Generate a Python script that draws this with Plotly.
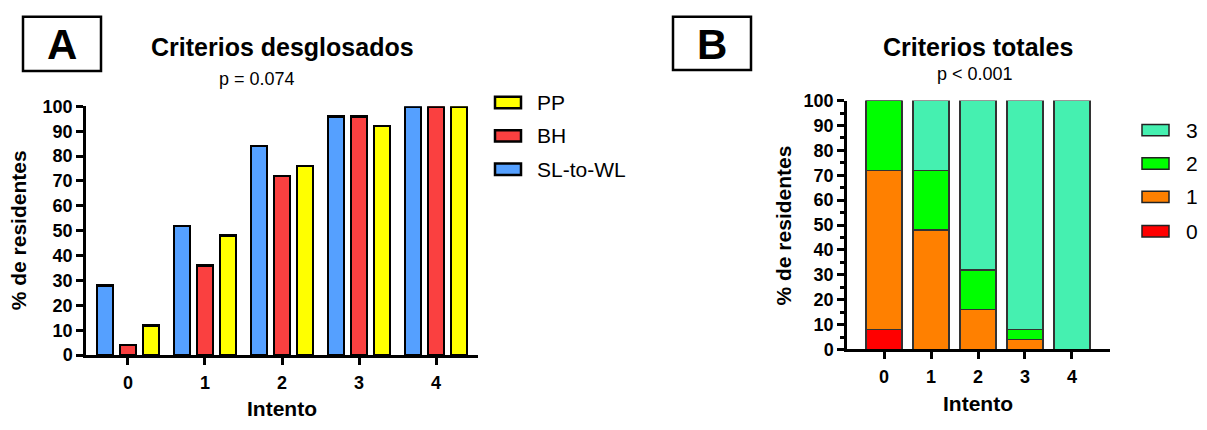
import plotly.graph_objects as go

# ---------------- data ----------------
intentos = [0, 1, 2, 3, 4]
tick_labels = ["0", "1", "2", "3", "4"]

# Panel A: criterios desglosados (% de residentes)
sl_to_wl = [28, 52, 84, 96, 100]
bh = [4, 36, 72, 96, 100]
pp = [12, 48, 76, 92, 100]

# Panel B: criterios totales (% de residentes, stacked)
crit0 = [8, 0, 0, 0, 0]
crit1 = [64, 48, 16, 4, 0]
crit2 = [28, 24, 16, 4, 0]
crit3 = [0, 28, 68, 92, 100]

W, H = 1207, 430
FONT = "Arial, Liberation Sans, sans-serif"


def px(x):
    return x / W


def py(y):
    return 1 - y / H


C_BLUE = "#55A0FF"
C_RED_A = "#FA4040"
C_YELLOW = "#FFFF00"
C_TEAL = "#45F0B0"
C_GREEN = "#00FF00"
C_ORANGE = "#FF8000"
C_RED_B = "#FF0000"

fig = go.Figure()

# ---- Panel A bars (grouped by shifting within each category) ----
group_shift = {"SL-to-WL": -0.3, "BH": 0.0, "PP": 0.3}
for name, vals, col in [("SL-to-WL", sl_to_wl, C_BLUE), ("BH", bh, C_RED_A), ("PP", pp, C_YELLOW)]:
    fig.add_trace(go.Bar(
        x=[i + group_shift[name] for i in intentos], y=vals, width=0.21,
        marker=dict(color=col, line=dict(color="black", width=2.5)),
        name=name, xaxis="x", yaxis="y", showlegend=False))

# ---- Panel B stacked bars ----
for name, vals, col in [("0", crit0, C_RED_B), ("1", crit1, C_ORANGE), ("2", crit2, C_GREEN), ("3", crit3, C_TEAL)]:
    fig.add_trace(go.Bar(
        x=intentos, y=vals, width=0.77,
        marker=dict(color=col, line=dict(color="#333333", width=1.5)),
        name=name, xaxis="x2", yaxis="y2", showlegend=False))

axis_common = dict(showline=True, linecolor="black", linewidth=2.5, ticks="outside",
                   tickcolor="black", tickwidth=2.5, ticklen=7, showgrid=False, zeroline=False,
                   tickfont=dict(family=FONT, size=18, color="black", weight=700))

fig.update_layout(
    width=W, height=H, margin=dict(l=0, r=0, t=0, b=0),
    paper_bgcolor="white", plot_bgcolor="white",
    barmode="stack", showlegend=False,
    font=dict(family=FONT, color="black"),
    xaxis=dict(domain=[px(86), px(478)], range=[-0.545, 4.545], tickvals=intentos,
               ticktext=tick_labels, anchor="y", ticklabelstandoff=2, **axis_common),
    yaxis=dict(domain=[py(362), py(101)], range=[0, 100], dtick=10, anchor="x", **axis_common),
    xaxis2=dict(domain=[px(847), px(1110)], range=[-0.79, 4.81], tickvals=intentos,
                ticktext=tick_labels, anchor="y2", ticklabelstandoff=2, **axis_common),
    yaxis2=dict(domain=[py(356), py(95)], range=[0, 100], dtick=10, anchor="x2",
                minor=dict(dtick=5, ticks="outside", ticklen=4, tickwidth=2.5, tickcolor="black"),
                **axis_common),
)

shapes = []
ann = []


def text(x, y, t, size, bold=False, angle=0, xanchor="center"):
    ann.append(dict(x=px(x), y=py(y), xref="paper", yref="paper", text=t, showarrow=False,
                    xanchor=xanchor, yanchor="middle", textangle=angle,
                    font=dict(family=FONT, size=size, color="black", weight=700 if bold else 400)))


# Panel label boxes
for (x0, y0, x1, y1, lab) in [(23, 7, 101, 64, "A"), (673, 7, 751, 63, "B")]:
    shapes.append(dict(type="rect", xref="paper", yref="paper", x0=px(x0), x1=px(x1),
                       y0=py(y1), y1=py(y0), line=dict(color="black", width=2.5)))
    text((x0 + x1) / 2, (y0 + y1) / 2 + 1, lab, 42, bold=True)

# Titles
text(282, 39, "Criterios desglosados", 25, bold=True)
text(257, 72, "p = 0.074", 18)
text(978, 39, "Criterios totales", 25, bold=True)
text(975, 67, "p < 0.001", 18)

# Axis titles
text(18, 231, "% de residentes", 21, bold=True, angle=-90)
text(282, 418, "Intento", 21, bold=True)
text(783, 226, "% de residentes", 21, bold=True, angle=-90)
text(978, 413, "Intento", 21, bold=True)

# Legend A
for (yc, lab, col) in [(97, "PP", C_YELLOW), (132, "BH", C_RED_A), (167, "SL-to-WL", C_BLUE)]:
    shapes.append(dict(type="rect", xref="paper", yref="paper", x0=px(495), x1=px(521),
                       y0=py(yc + 6), y1=py(yc - 6), fillcolor=col,
                       line=dict(color="black", width=2.5)))
    text(535, yc, lab, 21, xanchor="left")

# Legend B
for (yc, lab, col) in [(126, "3", C_TEAL), (161, "2", C_GREEN), (196, "1", C_ORANGE), (232, "0", C_RED_B)]:
    shapes.append(dict(type="rect", xref="paper", yref="paper", x0=px(1142), x1=px(1169),
                       y0=py(yc + 6), y1=py(yc - 6), fillcolor=col,
                       line=dict(color="#222222", width=1.5)))
    text(1184, yc, lab, 21, xanchor="left")

fig.update_layout(shapes=shapes, annotations=ann)

fig.write_html("out.html")
